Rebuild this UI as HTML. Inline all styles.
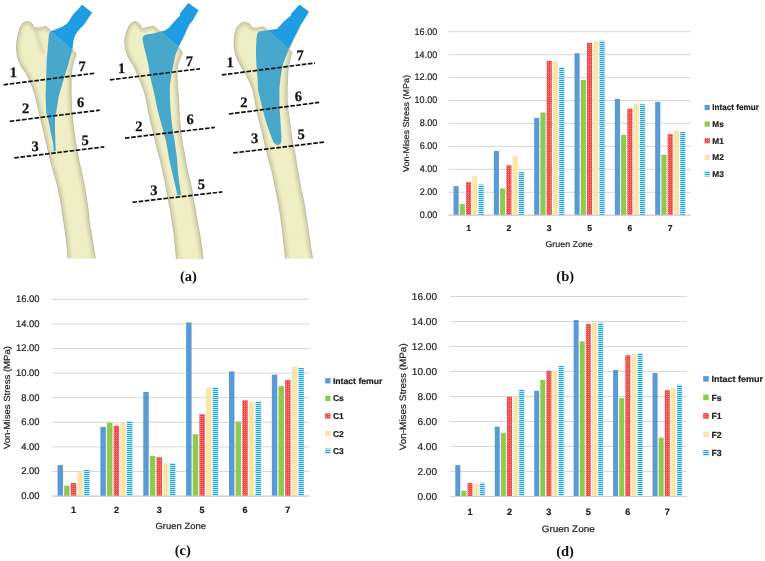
<!DOCTYPE html>
<html><head><meta charset="utf-8"><title>Figure</title>
<style>html,body{margin:0;padding:0;background:#fff;}.ch text{stroke:#222;stroke-width:0.2px;}body{width:765px;height:561px;position:relative;overflow:hidden;font-family:"Liberation Sans",sans-serif;}</style>
</head><body>
<svg width="765" height="561" viewBox="0 0 765 561" text-rendering="geometricPrecision" style="position:absolute;left:0;top:0">
<defs>
<pattern id="chk" width="2" height="2" patternUnits="userSpaceOnUse"><rect width="2" height="2" fill="#ee4a4a"/><rect width="1" height="1" fill="#f48a8a"/></pattern>
<pattern id="vln" width="2" height="2" patternUnits="userSpaceOnUse"><rect width="2" height="2" fill="#fce8ab"/><rect width="1" height="2" fill="#f9e3a2"/></pattern>
<pattern id="hln" width="2" height="2" patternUnits="userSpaceOnUse"><rect width="2" height="2" fill="#bfe6f9"/><rect width="2" height="1" fill="#20a8ea"/></pattern>
<linearGradient id="bg" x1="0" y1="0" x2="1" y2="0"><stop offset="0" stop-color="#d6d3ad"/><stop offset="0.45" stop-color="#ebe9c4"/><stop offset="1" stop-color="#d9d6b0"/></linearGradient>
</defs>
<filter id="blr" x="-20%" y="-20%" width="140%" height="140%"><feGaussianBlur stdDeviation="1.6"/></filter>
<clipPath id="cb0"><path d="M 27.60 21.40 C 28.00 21.55 29.23 21.87 30.00 22.30 C 30.77 22.73 31.60 23.35 32.20 24.00 C 32.80 24.65 33.03 25.60 33.60 26.20 C 34.17 26.80 34.37 27.33 35.60 27.60 C 36.83 27.87 39.38 27.98 41.00 27.80 C 42.62 27.62 44.23 26.58 45.30 26.50 C 46.37 26.42 46.45 26.57 47.40 27.30 C 48.35 28.03 48.90 29.45 51.00 30.90 C 53.10 32.35 57.17 33.98 60.00 36.00 C 62.83 38.02 65.93 40.77 68.00 43.00 C 70.07 45.23 71.25 47.92 72.40 49.40 C 73.55 50.88 74.27 51.07 74.90 51.90 C 75.53 52.73 76.40 52.85 76.20 54.40 C 76.00 55.95 74.43 58.60 73.70 61.20 C 72.97 63.80 72.22 66.67 71.80 70.00 C 71.38 73.33 71.30 76.83 71.20 81.20 C 71.10 85.57 71.13 92.07 71.20 96.20 C 71.27 100.33 71.37 102.25 71.60 106.00 C 71.83 109.75 72.05 113.47 72.60 118.70 C 73.15 123.93 74.00 131.15 74.90 137.40 C 75.80 143.65 76.97 150.77 78.00 156.20 C 79.03 161.63 80.05 165.20 81.10 170.00 C 82.15 174.80 83.43 180.43 84.30 185.00 C 85.17 189.57 85.65 193.25 86.30 197.40 C 86.95 201.55 87.63 205.33 88.20 209.90 C 88.77 214.47 89.13 220.68 89.70 224.80 C 90.27 228.92 90.97 230.83 91.60 234.60 C 92.23 238.37 92.85 243.40 93.50 247.40 C 94.15 251.40 95.17 256.73 95.50 258.60  L 68.00 258.60 C 67.85 256.73 67.50 251.40 67.10 247.40 C 66.70 243.40 66.08 238.37 65.60 234.60 C 65.12 230.83 64.70 228.07 64.20 224.80 C 63.70 221.53 63.08 218.30 62.60 215.00 C 62.12 211.70 61.77 207.93 61.30 205.00 C 60.83 202.07 60.47 200.73 59.80 197.40 C 59.13 194.07 58.32 189.15 57.30 185.00 C 56.28 180.85 54.88 176.67 53.70 172.50 C 52.52 168.33 51.65 165.85 50.20 160.00 C 48.75 154.15 46.60 144.28 45.00 137.40 C 43.40 130.52 42.07 124.93 40.60 118.70 C 39.13 112.47 37.38 104.78 36.20 100.00 C 35.02 95.22 34.62 93.33 33.50 90.00 C 32.38 86.67 30.83 82.92 29.50 80.00 C 28.17 77.08 26.75 74.58 25.50 72.50 C 24.25 70.42 23.00 69.17 22.00 67.50 C 21.00 65.83 20.28 64.42 19.50 62.50 C 18.72 60.58 17.80 58.58 17.30 56.00 C 16.80 53.42 16.55 49.67 16.50 47.00 C 16.45 44.33 16.75 42.00 17.00 40.00 C 17.25 38.00 17.58 36.83 18.00 35.00 C 18.42 33.17 18.92 30.67 19.50 29.00 C 20.08 27.33 20.70 26.12 21.50 25.00 C 22.30 23.88 23.28 22.90 24.30 22.30 C 25.32 21.70 27.05 21.55 27.60 21.40 Z"/></clipPath>
<path d="M 27.60 21.40 C 28.00 21.55 29.23 21.87 30.00 22.30 C 30.77 22.73 31.60 23.35 32.20 24.00 C 32.80 24.65 33.03 25.60 33.60 26.20 C 34.17 26.80 34.37 27.33 35.60 27.60 C 36.83 27.87 39.38 27.98 41.00 27.80 C 42.62 27.62 44.23 26.58 45.30 26.50 C 46.37 26.42 46.45 26.57 47.40 27.30 C 48.35 28.03 48.90 29.45 51.00 30.90 C 53.10 32.35 57.17 33.98 60.00 36.00 C 62.83 38.02 65.93 40.77 68.00 43.00 C 70.07 45.23 71.25 47.92 72.40 49.40 C 73.55 50.88 74.27 51.07 74.90 51.90 C 75.53 52.73 76.40 52.85 76.20 54.40 C 76.00 55.95 74.43 58.60 73.70 61.20 C 72.97 63.80 72.22 66.67 71.80 70.00 C 71.38 73.33 71.30 76.83 71.20 81.20 C 71.10 85.57 71.13 92.07 71.20 96.20 C 71.27 100.33 71.37 102.25 71.60 106.00 C 71.83 109.75 72.05 113.47 72.60 118.70 C 73.15 123.93 74.00 131.15 74.90 137.40 C 75.80 143.65 76.97 150.77 78.00 156.20 C 79.03 161.63 80.05 165.20 81.10 170.00 C 82.15 174.80 83.43 180.43 84.30 185.00 C 85.17 189.57 85.65 193.25 86.30 197.40 C 86.95 201.55 87.63 205.33 88.20 209.90 C 88.77 214.47 89.13 220.68 89.70 224.80 C 90.27 228.92 90.97 230.83 91.60 234.60 C 92.23 238.37 92.85 243.40 93.50 247.40 C 94.15 251.40 95.17 256.73 95.50 258.60  L 68.00 258.60 C 67.85 256.73 67.50 251.40 67.10 247.40 C 66.70 243.40 66.08 238.37 65.60 234.60 C 65.12 230.83 64.70 228.07 64.20 224.80 C 63.70 221.53 63.08 218.30 62.60 215.00 C 62.12 211.70 61.77 207.93 61.30 205.00 C 60.83 202.07 60.47 200.73 59.80 197.40 C 59.13 194.07 58.32 189.15 57.30 185.00 C 56.28 180.85 54.88 176.67 53.70 172.50 C 52.52 168.33 51.65 165.85 50.20 160.00 C 48.75 154.15 46.60 144.28 45.00 137.40 C 43.40 130.52 42.07 124.93 40.60 118.70 C 39.13 112.47 37.38 104.78 36.20 100.00 C 35.02 95.22 34.62 93.33 33.50 90.00 C 32.38 86.67 30.83 82.92 29.50 80.00 C 28.17 77.08 26.75 74.58 25.50 72.50 C 24.25 70.42 23.00 69.17 22.00 67.50 C 21.00 65.83 20.28 64.42 19.50 62.50 C 18.72 60.58 17.80 58.58 17.30 56.00 C 16.80 53.42 16.55 49.67 16.50 47.00 C 16.45 44.33 16.75 42.00 17.00 40.00 C 17.25 38.00 17.58 36.83 18.00 35.00 C 18.42 33.17 18.92 30.67 19.50 29.00 C 20.08 27.33 20.70 26.12 21.50 25.00 C 22.30 23.88 23.28 22.90 24.30 22.30 C 25.32 21.70 27.05 21.55 27.60 21.40 Z" fill="#efeec5"/>
<g clip-path="url(#cb0)"><path d="M 27.60 21.40 C 28.00 21.55 29.23 21.87 30.00 22.30 C 30.77 22.73 31.60 23.35 32.20 24.00 C 32.80 24.65 33.03 25.60 33.60 26.20 C 34.17 26.80 34.37 27.33 35.60 27.60 C 36.83 27.87 39.38 27.98 41.00 27.80 C 42.62 27.62 44.23 26.58 45.30 26.50 C 46.37 26.42 46.45 26.57 47.40 27.30 C 48.35 28.03 48.90 29.45 51.00 30.90 C 53.10 32.35 57.17 33.98 60.00 36.00 C 62.83 38.02 65.93 40.77 68.00 43.00 C 70.07 45.23 71.25 47.92 72.40 49.40 C 73.55 50.88 74.27 51.07 74.90 51.90 C 75.53 52.73 76.40 52.85 76.20 54.40 C 76.00 55.95 74.43 58.60 73.70 61.20 C 72.97 63.80 72.22 66.67 71.80 70.00 C 71.38 73.33 71.30 76.83 71.20 81.20 C 71.10 85.57 71.13 92.07 71.20 96.20 C 71.27 100.33 71.37 102.25 71.60 106.00 C 71.83 109.75 72.05 113.47 72.60 118.70 C 73.15 123.93 74.00 131.15 74.90 137.40 C 75.80 143.65 76.97 150.77 78.00 156.20 C 79.03 161.63 80.05 165.20 81.10 170.00 C 82.15 174.80 83.43 180.43 84.30 185.00 C 85.17 189.57 85.65 193.25 86.30 197.40 C 86.95 201.55 87.63 205.33 88.20 209.90 C 88.77 214.47 89.13 220.68 89.70 224.80 C 90.27 228.92 90.97 230.83 91.60 234.60 C 92.23 238.37 92.85 243.40 93.50 247.40 C 94.15 251.40 95.17 256.73 95.50 258.60  M 68.00 258.60 C 67.85 256.73 67.50 251.40 67.10 247.40 C 66.70 243.40 66.08 238.37 65.60 234.60 C 65.12 230.83 64.70 228.07 64.20 224.80 C 63.70 221.53 63.08 218.30 62.60 215.00 C 62.12 211.70 61.77 207.93 61.30 205.00 C 60.83 202.07 60.47 200.73 59.80 197.40 C 59.13 194.07 58.32 189.15 57.30 185.00 C 56.28 180.85 54.88 176.67 53.70 172.50 C 52.52 168.33 51.65 165.85 50.20 160.00 C 48.75 154.15 46.60 144.28 45.00 137.40 C 43.40 130.52 42.07 124.93 40.60 118.70 C 39.13 112.47 37.38 104.78 36.20 100.00 C 35.02 95.22 34.62 93.33 33.50 90.00 C 32.38 86.67 30.83 82.92 29.50 80.00 C 28.17 77.08 26.75 74.58 25.50 72.50 C 24.25 70.42 23.00 69.17 22.00 67.50 C 21.00 65.83 20.28 64.42 19.50 62.50 C 18.72 60.58 17.80 58.58 17.30 56.00 C 16.80 53.42 16.55 49.67 16.50 47.00 C 16.45 44.33 16.75 42.00 17.00 40.00 C 17.25 38.00 17.58 36.83 18.00 35.00 C 18.42 33.17 18.92 30.67 19.50 29.00 C 20.08 27.33 20.70 26.12 21.50 25.00 C 22.30 23.88 23.28 22.90 24.30 22.30 C 25.32 21.70 27.05 21.55 27.60 21.40 " fill="none" stroke="#d3d1ab" stroke-width="6" filter="url(#blr)"/></g>
<path d="M 27.60 21.40 C 28.00 21.55 29.23 21.87 30.00 22.30 C 30.77 22.73 31.60 23.35 32.20 24.00 C 32.80 24.65 33.03 25.60 33.60 26.20 C 34.17 26.80 34.37 27.33 35.60 27.60 C 36.83 27.87 39.38 27.98 41.00 27.80 C 42.62 27.62 44.23 26.58 45.30 26.50 C 46.37 26.42 46.45 26.57 47.40 27.30 C 48.35 28.03 48.90 29.45 51.00 30.90 C 53.10 32.35 57.17 33.98 60.00 36.00 C 62.83 38.02 65.93 40.77 68.00 43.00 C 70.07 45.23 71.25 47.92 72.40 49.40 C 73.55 50.88 74.27 51.07 74.90 51.90 C 75.53 52.73 76.40 52.85 76.20 54.40 C 76.00 55.95 74.43 58.60 73.70 61.20 C 72.97 63.80 72.22 66.67 71.80 70.00 C 71.38 73.33 71.30 76.83 71.20 81.20 C 71.10 85.57 71.13 92.07 71.20 96.20 C 71.27 100.33 71.37 102.25 71.60 106.00 C 71.83 109.75 72.05 113.47 72.60 118.70 C 73.15 123.93 74.00 131.15 74.90 137.40 C 75.80 143.65 76.97 150.77 78.00 156.20 C 79.03 161.63 80.05 165.20 81.10 170.00 C 82.15 174.80 83.43 180.43 84.30 185.00 C 85.17 189.57 85.65 193.25 86.30 197.40 C 86.95 201.55 87.63 205.33 88.20 209.90 C 88.77 214.47 89.13 220.68 89.70 224.80 C 90.27 228.92 90.97 230.83 91.60 234.60 C 92.23 238.37 92.85 243.40 93.50 247.40 C 94.15 251.40 95.17 256.73 95.50 258.60  M 68.00 258.60 C 67.85 256.73 67.50 251.40 67.10 247.40 C 66.70 243.40 66.08 238.37 65.60 234.60 C 65.12 230.83 64.70 228.07 64.20 224.80 C 63.70 221.53 63.08 218.30 62.60 215.00 C 62.12 211.70 61.77 207.93 61.30 205.00 C 60.83 202.07 60.47 200.73 59.80 197.40 C 59.13 194.07 58.32 189.15 57.30 185.00 C 56.28 180.85 54.88 176.67 53.70 172.50 C 52.52 168.33 51.65 165.85 50.20 160.00 C 48.75 154.15 46.60 144.28 45.00 137.40 C 43.40 130.52 42.07 124.93 40.60 118.70 C 39.13 112.47 37.38 104.78 36.20 100.00 C 35.02 95.22 34.62 93.33 33.50 90.00 C 32.38 86.67 30.83 82.92 29.50 80.00 C 28.17 77.08 26.75 74.58 25.50 72.50 C 24.25 70.42 23.00 69.17 22.00 67.50 C 21.00 65.83 20.28 64.42 19.50 62.50 C 18.72 60.58 17.80 58.58 17.30 56.00 C 16.80 53.42 16.55 49.67 16.50 47.00 C 16.45 44.33 16.75 42.00 17.00 40.00 C 17.25 38.00 17.58 36.83 18.00 35.00 C 18.42 33.17 18.92 30.67 19.50 29.00 C 20.08 27.33 20.70 26.12 21.50 25.00 C 22.30 23.88 23.28 22.90 24.30 22.30 C 25.32 21.70 27.05 21.55 27.60 21.40 " fill="none" stroke="#a8a688" stroke-width="0.6"/>
<clipPath id="cb1"><path d="M 135.00 21.60 C 135.43 21.75 136.80 22.00 137.60 22.50 C 138.40 23.00 138.98 23.62 139.80 24.60 C 140.62 25.58 141.35 27.90 142.50 28.40 C 143.65 28.90 144.92 27.97 146.70 27.60 C 148.48 27.23 151.77 26.25 153.20 26.20 C 154.63 26.15 154.23 26.50 155.30 27.30 C 156.37 28.10 157.15 29.22 159.60 31.00 C 162.05 32.78 166.85 35.32 170.00 38.00 C 173.15 40.68 176.58 44.93 178.50 47.10 C 180.42 49.27 180.92 49.85 181.50 51.00 C 182.08 52.15 182.33 52.50 182.00 54.00 C 181.67 55.50 180.25 57.83 179.50 60.00 C 178.75 62.17 177.92 64.50 177.50 67.00 C 177.08 69.50 177.02 72.00 177.00 75.00 C 176.98 78.00 177.15 81.27 177.40 85.00 C 177.65 88.73 178.22 93.23 178.50 97.40 C 178.78 101.57 178.82 105.23 179.10 110.00 C 179.38 114.77 179.68 120.65 180.20 126.00 C 180.72 131.35 181.42 137.10 182.20 142.10 C 182.98 147.10 184.05 151.35 184.90 156.00 C 185.75 160.65 186.43 165.77 187.30 170.00 C 188.17 174.23 189.27 177.73 190.10 181.40 C 190.93 185.07 191.73 188.90 192.30 192.00 C 192.87 195.10 192.95 196.88 193.50 200.00 C 194.05 203.12 194.98 207.13 195.60 210.70 C 196.22 214.27 196.57 217.83 197.20 221.40 C 197.83 224.97 198.77 228.53 199.40 232.10 C 200.03 235.67 200.47 239.23 201.00 242.80 C 201.53 246.37 202.25 250.77 202.60 253.50 C 202.95 256.23 203.02 258.25 203.10 259.20  L 176.40 259.20 C 176.32 258.25 176.17 256.23 175.90 253.50 C 175.63 250.77 175.17 246.37 174.80 242.80 C 174.43 239.23 174.15 235.67 173.70 232.10 C 173.25 228.53 172.63 224.97 172.10 221.40 C 171.57 217.83 171.12 214.27 170.50 210.70 C 169.88 207.13 169.32 204.88 168.40 200.00 C 167.48 195.12 165.98 186.40 165.00 181.40 C 164.02 176.40 163.37 173.88 162.50 170.00 C 161.63 166.12 160.97 162.75 159.80 158.10 C 158.63 153.45 156.83 147.45 155.50 142.10 C 154.17 136.75 153.05 131.35 151.80 126.00 C 150.55 120.65 149.00 114.77 148.00 110.00 C 147.00 105.23 146.75 101.40 145.80 97.40 C 144.85 93.40 143.60 89.57 142.30 86.00 C 141.00 82.43 139.40 79.28 138.00 76.00 C 136.60 72.72 135.30 68.98 133.90 66.30 C 132.50 63.62 130.85 62.22 129.60 59.90 C 128.35 57.58 127.20 55.07 126.40 52.40 C 125.60 49.73 124.98 46.57 124.80 43.90 C 124.62 41.23 124.67 39.25 125.30 36.40 C 125.93 33.55 127.55 29.03 128.60 26.80 C 129.65 24.57 130.53 23.87 131.60 23.00 C 132.67 22.13 134.43 21.83 135.00 21.60 Z"/></clipPath>
<path d="M 135.00 21.60 C 135.43 21.75 136.80 22.00 137.60 22.50 C 138.40 23.00 138.98 23.62 139.80 24.60 C 140.62 25.58 141.35 27.90 142.50 28.40 C 143.65 28.90 144.92 27.97 146.70 27.60 C 148.48 27.23 151.77 26.25 153.20 26.20 C 154.63 26.15 154.23 26.50 155.30 27.30 C 156.37 28.10 157.15 29.22 159.60 31.00 C 162.05 32.78 166.85 35.32 170.00 38.00 C 173.15 40.68 176.58 44.93 178.50 47.10 C 180.42 49.27 180.92 49.85 181.50 51.00 C 182.08 52.15 182.33 52.50 182.00 54.00 C 181.67 55.50 180.25 57.83 179.50 60.00 C 178.75 62.17 177.92 64.50 177.50 67.00 C 177.08 69.50 177.02 72.00 177.00 75.00 C 176.98 78.00 177.15 81.27 177.40 85.00 C 177.65 88.73 178.22 93.23 178.50 97.40 C 178.78 101.57 178.82 105.23 179.10 110.00 C 179.38 114.77 179.68 120.65 180.20 126.00 C 180.72 131.35 181.42 137.10 182.20 142.10 C 182.98 147.10 184.05 151.35 184.90 156.00 C 185.75 160.65 186.43 165.77 187.30 170.00 C 188.17 174.23 189.27 177.73 190.10 181.40 C 190.93 185.07 191.73 188.90 192.30 192.00 C 192.87 195.10 192.95 196.88 193.50 200.00 C 194.05 203.12 194.98 207.13 195.60 210.70 C 196.22 214.27 196.57 217.83 197.20 221.40 C 197.83 224.97 198.77 228.53 199.40 232.10 C 200.03 235.67 200.47 239.23 201.00 242.80 C 201.53 246.37 202.25 250.77 202.60 253.50 C 202.95 256.23 203.02 258.25 203.10 259.20  L 176.40 259.20 C 176.32 258.25 176.17 256.23 175.90 253.50 C 175.63 250.77 175.17 246.37 174.80 242.80 C 174.43 239.23 174.15 235.67 173.70 232.10 C 173.25 228.53 172.63 224.97 172.10 221.40 C 171.57 217.83 171.12 214.27 170.50 210.70 C 169.88 207.13 169.32 204.88 168.40 200.00 C 167.48 195.12 165.98 186.40 165.00 181.40 C 164.02 176.40 163.37 173.88 162.50 170.00 C 161.63 166.12 160.97 162.75 159.80 158.10 C 158.63 153.45 156.83 147.45 155.50 142.10 C 154.17 136.75 153.05 131.35 151.80 126.00 C 150.55 120.65 149.00 114.77 148.00 110.00 C 147.00 105.23 146.75 101.40 145.80 97.40 C 144.85 93.40 143.60 89.57 142.30 86.00 C 141.00 82.43 139.40 79.28 138.00 76.00 C 136.60 72.72 135.30 68.98 133.90 66.30 C 132.50 63.62 130.85 62.22 129.60 59.90 C 128.35 57.58 127.20 55.07 126.40 52.40 C 125.60 49.73 124.98 46.57 124.80 43.90 C 124.62 41.23 124.67 39.25 125.30 36.40 C 125.93 33.55 127.55 29.03 128.60 26.80 C 129.65 24.57 130.53 23.87 131.60 23.00 C 132.67 22.13 134.43 21.83 135.00 21.60 Z" fill="#efeec5"/>
<g clip-path="url(#cb1)"><path d="M 135.00 21.60 C 135.43 21.75 136.80 22.00 137.60 22.50 C 138.40 23.00 138.98 23.62 139.80 24.60 C 140.62 25.58 141.35 27.90 142.50 28.40 C 143.65 28.90 144.92 27.97 146.70 27.60 C 148.48 27.23 151.77 26.25 153.20 26.20 C 154.63 26.15 154.23 26.50 155.30 27.30 C 156.37 28.10 157.15 29.22 159.60 31.00 C 162.05 32.78 166.85 35.32 170.00 38.00 C 173.15 40.68 176.58 44.93 178.50 47.10 C 180.42 49.27 180.92 49.85 181.50 51.00 C 182.08 52.15 182.33 52.50 182.00 54.00 C 181.67 55.50 180.25 57.83 179.50 60.00 C 178.75 62.17 177.92 64.50 177.50 67.00 C 177.08 69.50 177.02 72.00 177.00 75.00 C 176.98 78.00 177.15 81.27 177.40 85.00 C 177.65 88.73 178.22 93.23 178.50 97.40 C 178.78 101.57 178.82 105.23 179.10 110.00 C 179.38 114.77 179.68 120.65 180.20 126.00 C 180.72 131.35 181.42 137.10 182.20 142.10 C 182.98 147.10 184.05 151.35 184.90 156.00 C 185.75 160.65 186.43 165.77 187.30 170.00 C 188.17 174.23 189.27 177.73 190.10 181.40 C 190.93 185.07 191.73 188.90 192.30 192.00 C 192.87 195.10 192.95 196.88 193.50 200.00 C 194.05 203.12 194.98 207.13 195.60 210.70 C 196.22 214.27 196.57 217.83 197.20 221.40 C 197.83 224.97 198.77 228.53 199.40 232.10 C 200.03 235.67 200.47 239.23 201.00 242.80 C 201.53 246.37 202.25 250.77 202.60 253.50 C 202.95 256.23 203.02 258.25 203.10 259.20  M 176.40 259.20 C 176.32 258.25 176.17 256.23 175.90 253.50 C 175.63 250.77 175.17 246.37 174.80 242.80 C 174.43 239.23 174.15 235.67 173.70 232.10 C 173.25 228.53 172.63 224.97 172.10 221.40 C 171.57 217.83 171.12 214.27 170.50 210.70 C 169.88 207.13 169.32 204.88 168.40 200.00 C 167.48 195.12 165.98 186.40 165.00 181.40 C 164.02 176.40 163.37 173.88 162.50 170.00 C 161.63 166.12 160.97 162.75 159.80 158.10 C 158.63 153.45 156.83 147.45 155.50 142.10 C 154.17 136.75 153.05 131.35 151.80 126.00 C 150.55 120.65 149.00 114.77 148.00 110.00 C 147.00 105.23 146.75 101.40 145.80 97.40 C 144.85 93.40 143.60 89.57 142.30 86.00 C 141.00 82.43 139.40 79.28 138.00 76.00 C 136.60 72.72 135.30 68.98 133.90 66.30 C 132.50 63.62 130.85 62.22 129.60 59.90 C 128.35 57.58 127.20 55.07 126.40 52.40 C 125.60 49.73 124.98 46.57 124.80 43.90 C 124.62 41.23 124.67 39.25 125.30 36.40 C 125.93 33.55 127.55 29.03 128.60 26.80 C 129.65 24.57 130.53 23.87 131.60 23.00 C 132.67 22.13 134.43 21.83 135.00 21.60 " fill="none" stroke="#d3d1ab" stroke-width="6" filter="url(#blr)"/></g>
<path d="M 135.00 21.60 C 135.43 21.75 136.80 22.00 137.60 22.50 C 138.40 23.00 138.98 23.62 139.80 24.60 C 140.62 25.58 141.35 27.90 142.50 28.40 C 143.65 28.90 144.92 27.97 146.70 27.60 C 148.48 27.23 151.77 26.25 153.20 26.20 C 154.63 26.15 154.23 26.50 155.30 27.30 C 156.37 28.10 157.15 29.22 159.60 31.00 C 162.05 32.78 166.85 35.32 170.00 38.00 C 173.15 40.68 176.58 44.93 178.50 47.10 C 180.42 49.27 180.92 49.85 181.50 51.00 C 182.08 52.15 182.33 52.50 182.00 54.00 C 181.67 55.50 180.25 57.83 179.50 60.00 C 178.75 62.17 177.92 64.50 177.50 67.00 C 177.08 69.50 177.02 72.00 177.00 75.00 C 176.98 78.00 177.15 81.27 177.40 85.00 C 177.65 88.73 178.22 93.23 178.50 97.40 C 178.78 101.57 178.82 105.23 179.10 110.00 C 179.38 114.77 179.68 120.65 180.20 126.00 C 180.72 131.35 181.42 137.10 182.20 142.10 C 182.98 147.10 184.05 151.35 184.90 156.00 C 185.75 160.65 186.43 165.77 187.30 170.00 C 188.17 174.23 189.27 177.73 190.10 181.40 C 190.93 185.07 191.73 188.90 192.30 192.00 C 192.87 195.10 192.95 196.88 193.50 200.00 C 194.05 203.12 194.98 207.13 195.60 210.70 C 196.22 214.27 196.57 217.83 197.20 221.40 C 197.83 224.97 198.77 228.53 199.40 232.10 C 200.03 235.67 200.47 239.23 201.00 242.80 C 201.53 246.37 202.25 250.77 202.60 253.50 C 202.95 256.23 203.02 258.25 203.10 259.20  M 176.40 259.20 C 176.32 258.25 176.17 256.23 175.90 253.50 C 175.63 250.77 175.17 246.37 174.80 242.80 C 174.43 239.23 174.15 235.67 173.70 232.10 C 173.25 228.53 172.63 224.97 172.10 221.40 C 171.57 217.83 171.12 214.27 170.50 210.70 C 169.88 207.13 169.32 204.88 168.40 200.00 C 167.48 195.12 165.98 186.40 165.00 181.40 C 164.02 176.40 163.37 173.88 162.50 170.00 C 161.63 166.12 160.97 162.75 159.80 158.10 C 158.63 153.45 156.83 147.45 155.50 142.10 C 154.17 136.75 153.05 131.35 151.80 126.00 C 150.55 120.65 149.00 114.77 148.00 110.00 C 147.00 105.23 146.75 101.40 145.80 97.40 C 144.85 93.40 143.60 89.57 142.30 86.00 C 141.00 82.43 139.40 79.28 138.00 76.00 C 136.60 72.72 135.30 68.98 133.90 66.30 C 132.50 63.62 130.85 62.22 129.60 59.90 C 128.35 57.58 127.20 55.07 126.40 52.40 C 125.60 49.73 124.98 46.57 124.80 43.90 C 124.62 41.23 124.67 39.25 125.30 36.40 C 125.93 33.55 127.55 29.03 128.60 26.80 C 129.65 24.57 130.53 23.87 131.60 23.00 C 132.67 22.13 134.43 21.83 135.00 21.60 " fill="none" stroke="#a8a688" stroke-width="0.6"/>
<clipPath id="cb2"><path d="M 244.80 22.30 C 245.23 22.40 246.60 22.63 247.40 22.90 C 248.20 23.17 248.88 23.20 249.60 23.90 C 250.32 24.60 250.63 26.38 251.70 27.10 C 252.77 27.82 254.22 28.23 256.00 28.20 C 257.78 28.17 260.97 27.00 262.40 26.90 C 263.83 26.80 263.70 27.03 264.60 27.60 C 265.50 28.17 265.57 28.57 267.80 30.30 C 270.03 32.03 274.48 34.88 278.00 38.00 C 281.52 41.12 286.80 46.87 288.90 49.00 C 291.00 51.13 290.17 50.13 290.60 50.80 C 291.03 51.47 291.57 51.73 291.50 53.00 C 291.43 54.27 290.63 56.47 290.20 58.40 C 289.77 60.33 289.27 62.38 288.90 64.60 C 288.53 66.82 288.23 69.02 288.00 71.70 C 287.77 74.38 287.63 77.65 287.50 80.70 C 287.37 83.75 287.20 85.78 287.20 90.00 C 287.20 94.22 287.07 100.65 287.50 106.00 C 287.93 111.35 289.02 116.43 289.80 122.10 C 290.58 127.77 291.43 135.35 292.20 140.00 C 292.97 144.65 293.77 146.67 294.40 150.00 C 295.03 153.33 295.32 155.83 296.00 160.00 C 296.68 164.17 297.70 170.33 298.50 175.00 C 299.30 179.67 300.15 184.67 300.80 188.00 C 301.45 191.33 301.77 192.05 302.40 195.00 C 303.03 197.95 303.97 202.13 304.60 205.70 C 305.23 209.27 305.67 212.83 306.20 216.40 C 306.73 219.97 307.27 223.53 307.80 227.10 C 308.33 230.67 308.87 234.23 309.40 237.80 C 309.93 241.37 310.47 245.03 311.00 248.50 C 311.53 251.97 312.33 256.92 312.60 258.60  L 285.60 258.60 C 285.38 256.92 284.70 251.97 284.30 248.50 C 283.90 245.03 283.57 241.37 283.20 237.80 C 282.83 234.23 282.55 230.67 282.10 227.10 C 281.65 223.53 281.03 219.97 280.50 216.40 C 279.97 212.83 279.52 209.27 278.90 205.70 C 278.28 202.13 277.53 198.62 276.80 195.00 C 276.07 191.38 275.28 187.82 274.50 184.00 C 273.72 180.18 273.22 176.77 272.10 172.10 C 270.98 167.43 269.07 160.85 267.80 156.00 C 266.53 151.15 265.33 146.50 264.50 143.00 C 263.67 139.50 263.62 138.48 262.80 135.00 C 261.98 131.52 260.75 126.93 259.60 122.10 C 258.45 117.27 257.05 111.35 255.90 106.00 C 254.75 100.65 254.10 94.77 252.70 90.00 C 251.30 85.23 249.28 81.07 247.50 77.40 C 245.72 73.73 243.65 70.90 242.00 68.00 C 240.35 65.10 238.77 62.67 237.60 60.00 C 236.43 57.33 235.58 54.67 235.00 52.00 C 234.42 49.33 234.18 46.67 234.10 44.00 C 234.02 41.33 234.10 38.58 234.50 36.00 C 234.90 33.42 235.67 30.40 236.50 28.50 C 237.33 26.60 238.55 25.57 239.50 24.60 C 240.45 23.63 241.32 23.08 242.20 22.70 C 243.08 22.32 244.37 22.37 244.80 22.30 Z"/></clipPath>
<path d="M 244.80 22.30 C 245.23 22.40 246.60 22.63 247.40 22.90 C 248.20 23.17 248.88 23.20 249.60 23.90 C 250.32 24.60 250.63 26.38 251.70 27.10 C 252.77 27.82 254.22 28.23 256.00 28.20 C 257.78 28.17 260.97 27.00 262.40 26.90 C 263.83 26.80 263.70 27.03 264.60 27.60 C 265.50 28.17 265.57 28.57 267.80 30.30 C 270.03 32.03 274.48 34.88 278.00 38.00 C 281.52 41.12 286.80 46.87 288.90 49.00 C 291.00 51.13 290.17 50.13 290.60 50.80 C 291.03 51.47 291.57 51.73 291.50 53.00 C 291.43 54.27 290.63 56.47 290.20 58.40 C 289.77 60.33 289.27 62.38 288.90 64.60 C 288.53 66.82 288.23 69.02 288.00 71.70 C 287.77 74.38 287.63 77.65 287.50 80.70 C 287.37 83.75 287.20 85.78 287.20 90.00 C 287.20 94.22 287.07 100.65 287.50 106.00 C 287.93 111.35 289.02 116.43 289.80 122.10 C 290.58 127.77 291.43 135.35 292.20 140.00 C 292.97 144.65 293.77 146.67 294.40 150.00 C 295.03 153.33 295.32 155.83 296.00 160.00 C 296.68 164.17 297.70 170.33 298.50 175.00 C 299.30 179.67 300.15 184.67 300.80 188.00 C 301.45 191.33 301.77 192.05 302.40 195.00 C 303.03 197.95 303.97 202.13 304.60 205.70 C 305.23 209.27 305.67 212.83 306.20 216.40 C 306.73 219.97 307.27 223.53 307.80 227.10 C 308.33 230.67 308.87 234.23 309.40 237.80 C 309.93 241.37 310.47 245.03 311.00 248.50 C 311.53 251.97 312.33 256.92 312.60 258.60  L 285.60 258.60 C 285.38 256.92 284.70 251.97 284.30 248.50 C 283.90 245.03 283.57 241.37 283.20 237.80 C 282.83 234.23 282.55 230.67 282.10 227.10 C 281.65 223.53 281.03 219.97 280.50 216.40 C 279.97 212.83 279.52 209.27 278.90 205.70 C 278.28 202.13 277.53 198.62 276.80 195.00 C 276.07 191.38 275.28 187.82 274.50 184.00 C 273.72 180.18 273.22 176.77 272.10 172.10 C 270.98 167.43 269.07 160.85 267.80 156.00 C 266.53 151.15 265.33 146.50 264.50 143.00 C 263.67 139.50 263.62 138.48 262.80 135.00 C 261.98 131.52 260.75 126.93 259.60 122.10 C 258.45 117.27 257.05 111.35 255.90 106.00 C 254.75 100.65 254.10 94.77 252.70 90.00 C 251.30 85.23 249.28 81.07 247.50 77.40 C 245.72 73.73 243.65 70.90 242.00 68.00 C 240.35 65.10 238.77 62.67 237.60 60.00 C 236.43 57.33 235.58 54.67 235.00 52.00 C 234.42 49.33 234.18 46.67 234.10 44.00 C 234.02 41.33 234.10 38.58 234.50 36.00 C 234.90 33.42 235.67 30.40 236.50 28.50 C 237.33 26.60 238.55 25.57 239.50 24.60 C 240.45 23.63 241.32 23.08 242.20 22.70 C 243.08 22.32 244.37 22.37 244.80 22.30 Z" fill="#efeec5"/>
<g clip-path="url(#cb2)"><path d="M 244.80 22.30 C 245.23 22.40 246.60 22.63 247.40 22.90 C 248.20 23.17 248.88 23.20 249.60 23.90 C 250.32 24.60 250.63 26.38 251.70 27.10 C 252.77 27.82 254.22 28.23 256.00 28.20 C 257.78 28.17 260.97 27.00 262.40 26.90 C 263.83 26.80 263.70 27.03 264.60 27.60 C 265.50 28.17 265.57 28.57 267.80 30.30 C 270.03 32.03 274.48 34.88 278.00 38.00 C 281.52 41.12 286.80 46.87 288.90 49.00 C 291.00 51.13 290.17 50.13 290.60 50.80 C 291.03 51.47 291.57 51.73 291.50 53.00 C 291.43 54.27 290.63 56.47 290.20 58.40 C 289.77 60.33 289.27 62.38 288.90 64.60 C 288.53 66.82 288.23 69.02 288.00 71.70 C 287.77 74.38 287.63 77.65 287.50 80.70 C 287.37 83.75 287.20 85.78 287.20 90.00 C 287.20 94.22 287.07 100.65 287.50 106.00 C 287.93 111.35 289.02 116.43 289.80 122.10 C 290.58 127.77 291.43 135.35 292.20 140.00 C 292.97 144.65 293.77 146.67 294.40 150.00 C 295.03 153.33 295.32 155.83 296.00 160.00 C 296.68 164.17 297.70 170.33 298.50 175.00 C 299.30 179.67 300.15 184.67 300.80 188.00 C 301.45 191.33 301.77 192.05 302.40 195.00 C 303.03 197.95 303.97 202.13 304.60 205.70 C 305.23 209.27 305.67 212.83 306.20 216.40 C 306.73 219.97 307.27 223.53 307.80 227.10 C 308.33 230.67 308.87 234.23 309.40 237.80 C 309.93 241.37 310.47 245.03 311.00 248.50 C 311.53 251.97 312.33 256.92 312.60 258.60  M 285.60 258.60 C 285.38 256.92 284.70 251.97 284.30 248.50 C 283.90 245.03 283.57 241.37 283.20 237.80 C 282.83 234.23 282.55 230.67 282.10 227.10 C 281.65 223.53 281.03 219.97 280.50 216.40 C 279.97 212.83 279.52 209.27 278.90 205.70 C 278.28 202.13 277.53 198.62 276.80 195.00 C 276.07 191.38 275.28 187.82 274.50 184.00 C 273.72 180.18 273.22 176.77 272.10 172.10 C 270.98 167.43 269.07 160.85 267.80 156.00 C 266.53 151.15 265.33 146.50 264.50 143.00 C 263.67 139.50 263.62 138.48 262.80 135.00 C 261.98 131.52 260.75 126.93 259.60 122.10 C 258.45 117.27 257.05 111.35 255.90 106.00 C 254.75 100.65 254.10 94.77 252.70 90.00 C 251.30 85.23 249.28 81.07 247.50 77.40 C 245.72 73.73 243.65 70.90 242.00 68.00 C 240.35 65.10 238.77 62.67 237.60 60.00 C 236.43 57.33 235.58 54.67 235.00 52.00 C 234.42 49.33 234.18 46.67 234.10 44.00 C 234.02 41.33 234.10 38.58 234.50 36.00 C 234.90 33.42 235.67 30.40 236.50 28.50 C 237.33 26.60 238.55 25.57 239.50 24.60 C 240.45 23.63 241.32 23.08 242.20 22.70 C 243.08 22.32 244.37 22.37 244.80 22.30 " fill="none" stroke="#d3d1ab" stroke-width="6" filter="url(#blr)"/></g>
<path d="M 244.80 22.30 C 245.23 22.40 246.60 22.63 247.40 22.90 C 248.20 23.17 248.88 23.20 249.60 23.90 C 250.32 24.60 250.63 26.38 251.70 27.10 C 252.77 27.82 254.22 28.23 256.00 28.20 C 257.78 28.17 260.97 27.00 262.40 26.90 C 263.83 26.80 263.70 27.03 264.60 27.60 C 265.50 28.17 265.57 28.57 267.80 30.30 C 270.03 32.03 274.48 34.88 278.00 38.00 C 281.52 41.12 286.80 46.87 288.90 49.00 C 291.00 51.13 290.17 50.13 290.60 50.80 C 291.03 51.47 291.57 51.73 291.50 53.00 C 291.43 54.27 290.63 56.47 290.20 58.40 C 289.77 60.33 289.27 62.38 288.90 64.60 C 288.53 66.82 288.23 69.02 288.00 71.70 C 287.77 74.38 287.63 77.65 287.50 80.70 C 287.37 83.75 287.20 85.78 287.20 90.00 C 287.20 94.22 287.07 100.65 287.50 106.00 C 287.93 111.35 289.02 116.43 289.80 122.10 C 290.58 127.77 291.43 135.35 292.20 140.00 C 292.97 144.65 293.77 146.67 294.40 150.00 C 295.03 153.33 295.32 155.83 296.00 160.00 C 296.68 164.17 297.70 170.33 298.50 175.00 C 299.30 179.67 300.15 184.67 300.80 188.00 C 301.45 191.33 301.77 192.05 302.40 195.00 C 303.03 197.95 303.97 202.13 304.60 205.70 C 305.23 209.27 305.67 212.83 306.20 216.40 C 306.73 219.97 307.27 223.53 307.80 227.10 C 308.33 230.67 308.87 234.23 309.40 237.80 C 309.93 241.37 310.47 245.03 311.00 248.50 C 311.53 251.97 312.33 256.92 312.60 258.60  M 285.60 258.60 C 285.38 256.92 284.70 251.97 284.30 248.50 C 283.90 245.03 283.57 241.37 283.20 237.80 C 282.83 234.23 282.55 230.67 282.10 227.10 C 281.65 223.53 281.03 219.97 280.50 216.40 C 279.97 212.83 279.52 209.27 278.90 205.70 C 278.28 202.13 277.53 198.62 276.80 195.00 C 276.07 191.38 275.28 187.82 274.50 184.00 C 273.72 180.18 273.22 176.77 272.10 172.10 C 270.98 167.43 269.07 160.85 267.80 156.00 C 266.53 151.15 265.33 146.50 264.50 143.00 C 263.67 139.50 263.62 138.48 262.80 135.00 C 261.98 131.52 260.75 126.93 259.60 122.10 C 258.45 117.27 257.05 111.35 255.90 106.00 C 254.75 100.65 254.10 94.77 252.70 90.00 C 251.30 85.23 249.28 81.07 247.50 77.40 C 245.72 73.73 243.65 70.90 242.00 68.00 C 240.35 65.10 238.77 62.67 237.60 60.00 C 236.43 57.33 235.58 54.67 235.00 52.00 C 234.42 49.33 234.18 46.67 234.10 44.00 C 234.02 41.33 234.10 38.58 234.50 36.00 C 234.90 33.42 235.67 30.40 236.50 28.50 C 237.33 26.60 238.55 25.57 239.50 24.60 C 240.45 23.63 241.32 23.08 242.20 22.70 C 243.08 22.32 244.37 22.37 244.80 22.30 " fill="none" stroke="#a8a688" stroke-width="0.6"/>
<path d="M 34.6 27.2 C 36.5 31 37.8 36.4 38.8 41 C 39.8 45.5 41.5 49.5 44 54" fill="none" stroke="#c9c6a0" stroke-width="2.2" filter="url(#blr)" opacity="0.8" clip-path="url(#cb0)"/>
<path d="M 50.90 31.20 L 72.40 49.40 L 69.90 58.70 L 66.20 71.20 L 62.40 83.70 L 58.70 96.20 L 56.20 112.50 L 55.00 116.50 L 55.00 131.20 L 55.70 150.50 L 55.00 151.60 L 53.80 151.40 L 53.10 143.70 L 50.60 131.20 L 48.10 118.70 L 46.20 112.50 L 45.60 96.20 L 46.20 77.40 L 46.80 58.70 L 47.80 47.40 L 48.90 34.60 Z" fill="#47a8cb"/>
<path d="M 142.50 39.60 L 142.80 37.00 L 144.50 35.20 L 146.50 34.50 L 152.10 33.70 L 160.90 31.40 L 178.50 47.10 L 175.60 54.60 L 174.30 60.00 L 171.80 72.50 L 169.90 85.00 L 169.90 97.40 L 170.50 110.00 L 172.10 126.00 L 174.80 142.10 L 176.90 158.10 L 178.30 176.00 L 181.00 194.20 L 180.80 195.30 L 177.40 195.30 L 177.30 194.20 L 173.00 176.00 L 169.30 160.00 L 166.20 142.10 L 161.90 126.00 L 157.60 110.00 L 153.70 91.20 L 150.00 76.20 L 148.30 64.20 L 146.20 55.60 L 144.10 47.10 Z" fill="#47a8cb"/>
<path d="M 256.60 37.00 L 257.30 33.50 L 259.20 31.60 L 262.00 31.00 L 267.80 30.30 L 288.90 49.00 L 286.20 55.70 L 283.50 62.80 L 281.70 70.00 L 280.40 78.90 L 279.50 87.80 L 279.40 95.00 L 279.40 106.00 L 280.50 122.10 L 281.50 138.10 L 281.30 141.50 L 280.20 144.00 L 278.00 145.30 L 275.60 144.60 L 273.30 142.00 L 271.40 137.10 L 266.00 122.10 L 261.80 106.00 L 258.00 90.00 L 257.70 80.70 L 256.30 62.80 L 256.00 52.80 L 256.10 45.00 Z" fill="#47a8cb"/>
<path d="M 82.10 4.70 L 92.10 12.50 L 84.20 24.50 L 79.30 29.40 L 76.40 33.30 L 74.40 37.30 L 73.40 41.20 L 72.40 49.40 L 50.90 31.20 L 56.80 28.90 L 62.60 26.50 L 66.60 24.00 L 70.00 19.60 L 71.50 16.70 L 73.40 14.20 Z" fill="#1e9de2"/>
<path d="M 188.30 2.90 L 198.60 10.30 L 191.80 22.10 L 190.30 23.00 L 188.30 26.50 L 185.40 33.30 L 182.50 39.20 L 178.50 47.10 L 160.90 31.40 L 164.80 30.40 L 168.70 27.90 L 172.60 23.50 L 176.60 19.10 L 180.00 15.70 L 180.00 13.20 Z" fill="#1e9de2"/>
<path d="M 299.40 4.50 L 309.00 11.80 L 302.10 23.00 L 301.00 24.60 L 297.80 31.00 L 293.50 39.60 L 288.90 49.00 L 267.80 30.30 L 276.90 28.90 L 283.90 21.40 L 290.80 15.50 L 291.40 13.40 Z" fill="#1e9de2"/>
<line x1="3.6" y1="84.8" x2="94.5" y2="73.2" stroke="#111" stroke-width="1.7" stroke-dasharray="4.6 1.6"/>
<line x1="9.8" y1="121.3" x2="99.8" y2="110.2" stroke="#111" stroke-width="1.7" stroke-dasharray="4.6 1.6"/>
<line x1="14.3" y1="157.9" x2="104.3" y2="146.8" stroke="#111" stroke-width="1.7" stroke-dasharray="4.6 1.6"/>
<line x1="110.0" y1="79.8" x2="200.0" y2="68.8" stroke="#111" stroke-width="1.7" stroke-dasharray="4.6 1.6"/>
<line x1="125.0" y1="138.1" x2="214.8" y2="127.4" stroke="#111" stroke-width="1.7" stroke-dasharray="4.6 1.6"/>
<line x1="132.5" y1="202.3" x2="222.3" y2="191.9" stroke="#111" stroke-width="1.7" stroke-dasharray="4.6 1.6"/>
<line x1="221.8" y1="74.9" x2="315.0" y2="63.0" stroke="#111" stroke-width="1.7" stroke-dasharray="4.6 1.6"/>
<line x1="228.9" y1="114.0" x2="319.2" y2="102.4" stroke="#111" stroke-width="1.7" stroke-dasharray="4.6 1.6"/>
<line x1="233.2" y1="153.0" x2="324.1" y2="142.1" stroke="#111" stroke-width="1.7" stroke-dasharray="4.6 1.6"/>
<g opacity="0.995">
<text x="13.4" y="77.4" font-family="Liberation Serif" font-weight="bold" font-size="14.5" text-anchor="middle" fill="#111" stroke="#111" stroke-width="0.25">1</text>
<text x="82.0" y="71.0" font-family="Liberation Serif" font-weight="bold" font-size="14.5" text-anchor="middle" fill="#111" stroke="#111" stroke-width="0.25">7</text>
<text x="25.5" y="112.6" font-family="Liberation Serif" font-weight="bold" font-size="14.5" text-anchor="middle" fill="#111" stroke="#111" stroke-width="0.25">2</text>
<text x="80.7" y="106.8" font-family="Liberation Serif" font-weight="bold" font-size="14.5" text-anchor="middle" fill="#111" stroke="#111" stroke-width="0.25">6</text>
<text x="35.1" y="150.9" font-family="Liberation Serif" font-weight="bold" font-size="14.5" text-anchor="middle" fill="#111" stroke="#111" stroke-width="0.25">3</text>
<text x="85.2" y="145.2" font-family="Liberation Serif" font-weight="bold" font-size="14.5" text-anchor="middle" fill="#111" stroke="#111" stroke-width="0.25">5</text>
<text x="121.6" y="73.2" font-family="Liberation Serif" font-weight="bold" font-size="14.5" text-anchor="middle" fill="#111" stroke="#111" stroke-width="0.25">1</text>
<text x="189.3" y="66.1" font-family="Liberation Serif" font-weight="bold" font-size="14.5" text-anchor="middle" fill="#111" stroke="#111" stroke-width="0.25">7</text>
<text x="138.9" y="130.5" font-family="Liberation Serif" font-weight="bold" font-size="14.5" text-anchor="middle" fill="#111" stroke="#111" stroke-width="0.25">2</text>
<text x="190.2" y="124.1" font-family="Liberation Serif" font-weight="bold" font-size="14.5" text-anchor="middle" fill="#111" stroke="#111" stroke-width="0.25">6</text>
<text x="153.9" y="194.7" font-family="Liberation Serif" font-weight="bold" font-size="14.5" text-anchor="middle" fill="#111" stroke="#111" stroke-width="0.25">3</text>
<text x="201.3" y="188.7" font-family="Liberation Serif" font-weight="bold" font-size="14.5" text-anchor="middle" fill="#111" stroke="#111" stroke-width="0.25">5</text>
<text x="230.2" y="67.0" font-family="Liberation Serif" font-weight="bold" font-size="14.5" text-anchor="middle" fill="#111" stroke="#111" stroke-width="0.25">1</text>
<text x="300.2" y="60.2" font-family="Liberation Serif" font-weight="bold" font-size="14.5" text-anchor="middle" fill="#111" stroke="#111" stroke-width="0.25">7</text>
<text x="243.9" y="107.1" font-family="Liberation Serif" font-weight="bold" font-size="14.5" text-anchor="middle" fill="#111" stroke="#111" stroke-width="0.25">2</text>
<text x="298.4" y="100.6" font-family="Liberation Serif" font-weight="bold" font-size="14.5" text-anchor="middle" fill="#111" stroke="#111" stroke-width="0.25">6</text>
<text x="254.6" y="143.4" font-family="Liberation Serif" font-weight="bold" font-size="14.5" text-anchor="middle" fill="#111" stroke="#111" stroke-width="0.25">3</text>
<text x="301.2" y="139.1" font-family="Liberation Serif" font-weight="bold" font-size="14.5" text-anchor="middle" fill="#111" stroke="#111" stroke-width="0.25">5</text>
<text x="188.4" y="280.6" font-family="Liberation Serif" font-weight="bold" font-size="14.5" text-anchor="middle" fill="#111">(a)</text>
<text x="565.2" y="281.4" font-family="Liberation Serif" font-weight="bold" font-size="14.5" text-anchor="middle" fill="#111">(b)</text>
<text x="182.7" y="555.3" font-family="Liberation Serif" font-weight="bold" font-size="14.5" text-anchor="middle" fill="#111">(c)</text>
<text x="565.0" y="555.9" font-family="Liberation Serif" font-weight="bold" font-size="14.5" text-anchor="middle" fill="#111">(d)</text>
</g>
<g class="ch" font-family="Liberation Sans" opacity="0.995">
<line x1="448.40" y1="215.20" x2="690.40" y2="215.20" stroke="#d9d9d9" stroke-width="1"/>
<text x="437.20" y="218.08" font-size="9.60" text-anchor="end" fill="#222" textLength="17.57" lengthAdjust="spacingAndGlyphs">0.00</text>
<line x1="448.40" y1="192.26" x2="690.40" y2="192.26" stroke="#d9d9d9" stroke-width="1"/>
<text x="437.20" y="195.14" font-size="9.60" text-anchor="end" fill="#222" textLength="17.57" lengthAdjust="spacingAndGlyphs">2.00</text>
<line x1="448.40" y1="169.32" x2="690.40" y2="169.32" stroke="#d9d9d9" stroke-width="1"/>
<text x="437.20" y="172.20" font-size="9.60" text-anchor="end" fill="#222" textLength="17.57" lengthAdjust="spacingAndGlyphs">4.00</text>
<line x1="448.40" y1="146.39" x2="690.40" y2="146.39" stroke="#d9d9d9" stroke-width="1"/>
<text x="437.20" y="149.27" font-size="9.60" text-anchor="end" fill="#222" textLength="17.57" lengthAdjust="spacingAndGlyphs">6.00</text>
<line x1="448.40" y1="123.45" x2="690.40" y2="123.45" stroke="#d9d9d9" stroke-width="1"/>
<text x="437.20" y="126.33" font-size="9.60" text-anchor="end" fill="#222" textLength="17.57" lengthAdjust="spacingAndGlyphs">8.00</text>
<line x1="448.40" y1="100.51" x2="690.40" y2="100.51" stroke="#d9d9d9" stroke-width="1"/>
<text x="437.20" y="103.39" font-size="9.60" text-anchor="end" fill="#222" textLength="22.60" lengthAdjust="spacingAndGlyphs">10.00</text>
<line x1="448.40" y1="77.57" x2="690.40" y2="77.57" stroke="#d9d9d9" stroke-width="1"/>
<text x="437.20" y="80.45" font-size="9.60" text-anchor="end" fill="#222" textLength="22.60" lengthAdjust="spacingAndGlyphs">12.00</text>
<line x1="448.40" y1="54.64" x2="690.40" y2="54.64" stroke="#d9d9d9" stroke-width="1"/>
<text x="437.20" y="57.52" font-size="9.60" text-anchor="end" fill="#222" textLength="22.60" lengthAdjust="spacingAndGlyphs">14.00</text>
<line x1="448.40" y1="31.70" x2="690.40" y2="31.70" stroke="#d9d9d9" stroke-width="1"/>
<text x="437.20" y="34.58" font-size="9.60" text-anchor="end" fill="#222" textLength="22.60" lengthAdjust="spacingAndGlyphs">16.00</text>
<rect x="453.50" y="186.08" width="5.13" height="29.12" fill="#5b9bd5"/>
<rect x="459.75" y="204.15" width="5.13" height="11.05" fill="#8fc94e"/>
<rect x="466.00" y="182.05" width="5.13" height="33.15" fill="url(#chk)"/>
<rect x="472.26" y="176.18" width="5.13" height="39.02" fill="url(#vln)"/>
<rect x="478.51" y="184.59" width="5.13" height="30.61" fill="url(#hln)"/>
<text x="468.57" y="231.48" font-weight="bold" font-size="8.60" text-anchor="middle" fill="#222">1</text>
<rect x="493.83" y="150.98" width="5.13" height="64.22" fill="#5b9bd5"/>
<rect x="500.09" y="188.38" width="5.13" height="26.82" fill="#8fc94e"/>
<rect x="506.34" y="165.25" width="5.13" height="49.95" fill="url(#chk)"/>
<rect x="512.59" y="156.16" width="5.13" height="59.04" fill="url(#vln)"/>
<rect x="518.84" y="172.04" width="5.13" height="43.16" fill="url(#hln)"/>
<text x="508.90" y="231.48" font-weight="bold" font-size="8.60" text-anchor="middle" fill="#222">2</text>
<rect x="534.17" y="117.83" width="5.13" height="97.37" fill="#5b9bd5"/>
<rect x="540.42" y="112.54" width="5.13" height="102.66" fill="#8fc94e"/>
<rect x="546.67" y="60.87" width="5.13" height="154.33" fill="url(#chk)"/>
<rect x="552.92" y="60.87" width="5.13" height="154.33" fill="url(#vln)"/>
<rect x="559.17" y="66.97" width="5.13" height="148.23" fill="url(#hln)"/>
<text x="549.23" y="231.48" font-weight="bold" font-size="8.60" text-anchor="middle" fill="#222">3</text>
<rect x="574.50" y="53.27" width="5.13" height="161.93" fill="#5b9bd5"/>
<rect x="580.75" y="80.09" width="5.13" height="135.11" fill="#8fc94e"/>
<rect x="587.00" y="42.80" width="5.13" height="172.40" fill="url(#chk)"/>
<rect x="593.26" y="41.07" width="5.13" height="174.13" fill="url(#vln)"/>
<rect x="599.51" y="40.73" width="5.13" height="174.47" fill="url(#hln)"/>
<text x="589.57" y="231.48" font-weight="bold" font-size="8.60" text-anchor="middle" fill="#222">5</text>
<rect x="614.83" y="98.96" width="5.13" height="116.24" fill="#5b9bd5"/>
<rect x="621.09" y="134.98" width="5.13" height="80.22" fill="#8fc94e"/>
<rect x="627.34" y="108.63" width="5.13" height="106.57" fill="url(#chk)"/>
<rect x="633.59" y="103.56" width="5.13" height="111.64" fill="url(#vln)"/>
<rect x="639.84" y="104.25" width="5.13" height="110.95" fill="url(#hln)"/>
<text x="629.90" y="231.48" font-weight="bold" font-size="8.60" text-anchor="middle" fill="#222">6</text>
<rect x="655.17" y="101.84" width="5.13" height="113.36" fill="#5b9bd5"/>
<rect x="661.42" y="154.78" width="5.13" height="60.42" fill="#8fc94e"/>
<rect x="667.67" y="134.06" width="5.13" height="81.14" fill="url(#chk)"/>
<rect x="673.92" y="130.72" width="5.13" height="84.48" fill="url(#vln)"/>
<rect x="680.17" y="131.88" width="5.13" height="83.32" fill="url(#hln)"/>
<text x="670.23" y="231.48" font-weight="bold" font-size="8.60" text-anchor="middle" fill="#222">7</text>
<line x1="448.40" y1="215.20" x2="690.40" y2="215.20" stroke="#d0d0d0" stroke-width="1"/>
<text x="569.10" y="246.52" font-size="8.40" text-anchor="middle" fill="#222" textLength="47.30" lengthAdjust="spacingAndGlyphs">Gruen Zone</text>
<text transform="translate(406.20 123.50) rotate(-90)" font-size="8.40" text-anchor="middle" fill="#222" x="0" y="3.02" textLength="97.00" lengthAdjust="spacingAndGlyphs">Von-Mises Stress (MPa)</text>
<rect x="704.60" y="104.90" width="5.20" height="5.20" fill="#5b9bd5"/>
<text x="712.30" y="110.49" font-weight="bold" font-size="8.30" fill="#222" textLength="46.60" lengthAdjust="spacingAndGlyphs">Intact femur</text>
<rect x="704.60" y="121.50" width="5.20" height="5.20" fill="#8fc94e"/>
<text x="712.30" y="127.09" font-weight="bold" font-size="8.30" fill="#222">Ms</text>
<rect x="704.60" y="138.10" width="5.20" height="5.20" fill="url(#chk)"/>
<text x="712.30" y="143.69" font-weight="bold" font-size="8.30" fill="#222">M1</text>
<rect x="704.60" y="154.70" width="5.20" height="5.20" fill="url(#vln)"/>
<text x="712.30" y="160.29" font-weight="bold" font-size="8.30" fill="#222">M2</text>
<rect x="704.60" y="171.30" width="5.20" height="5.20" fill="url(#hln)"/>
<text x="712.30" y="176.89" font-weight="bold" font-size="8.30" fill="#222">M3</text>
<line x1="52.10" y1="496.10" x2="309.30" y2="496.10" stroke="#d9d9d9" stroke-width="1"/>
<text x="39.60" y="498.98" font-size="9.60" text-anchor="end" fill="#222" textLength="18.35" lengthAdjust="spacingAndGlyphs">0.00</text>
<line x1="52.10" y1="471.50" x2="309.30" y2="471.50" stroke="#d9d9d9" stroke-width="1"/>
<text x="39.60" y="474.38" font-size="9.60" text-anchor="end" fill="#222" textLength="18.35" lengthAdjust="spacingAndGlyphs">2.00</text>
<line x1="52.10" y1="446.90" x2="309.30" y2="446.90" stroke="#d9d9d9" stroke-width="1"/>
<text x="39.60" y="449.78" font-size="9.60" text-anchor="end" fill="#222" textLength="18.35" lengthAdjust="spacingAndGlyphs">4.00</text>
<line x1="52.10" y1="422.30" x2="309.30" y2="422.30" stroke="#d9d9d9" stroke-width="1"/>
<text x="39.60" y="425.18" font-size="9.60" text-anchor="end" fill="#222" textLength="18.35" lengthAdjust="spacingAndGlyphs">6.00</text>
<line x1="52.10" y1="397.70" x2="309.30" y2="397.70" stroke="#d9d9d9" stroke-width="1"/>
<text x="39.60" y="400.58" font-size="9.60" text-anchor="end" fill="#222" textLength="18.35" lengthAdjust="spacingAndGlyphs">8.00</text>
<line x1="52.10" y1="373.10" x2="309.30" y2="373.10" stroke="#d9d9d9" stroke-width="1"/>
<text x="39.60" y="375.98" font-size="9.60" text-anchor="end" fill="#222" textLength="23.60" lengthAdjust="spacingAndGlyphs">10.00</text>
<line x1="52.10" y1="348.50" x2="309.30" y2="348.50" stroke="#d9d9d9" stroke-width="1"/>
<text x="39.60" y="351.38" font-size="9.60" text-anchor="end" fill="#222" textLength="23.60" lengthAdjust="spacingAndGlyphs">12.00</text>
<line x1="52.10" y1="323.90" x2="309.30" y2="323.90" stroke="#d9d9d9" stroke-width="1"/>
<text x="39.60" y="326.78" font-size="9.60" text-anchor="end" fill="#222" textLength="23.60" lengthAdjust="spacingAndGlyphs">14.00</text>
<line x1="52.10" y1="299.30" x2="309.30" y2="299.30" stroke="#d9d9d9" stroke-width="1"/>
<text x="39.60" y="302.18" font-size="9.60" text-anchor="end" fill="#222" textLength="23.60" lengthAdjust="spacingAndGlyphs">16.00</text>
<rect x="57.52" y="465.05" width="5.45" height="31.05" fill="#5b9bd5"/>
<rect x="64.16" y="485.59" width="5.45" height="10.51" fill="#8fc94e"/>
<rect x="70.81" y="482.99" width="5.45" height="13.11" fill="url(#chk)"/>
<rect x="77.45" y="472.35" width="5.45" height="23.75" fill="url(#vln)"/>
<rect x="84.10" y="470.00" width="5.45" height="26.10" fill="url(#hln)"/>
<text x="73.53" y="513.22" font-weight="bold" font-size="9.00" text-anchor="middle" fill="#222">1</text>
<rect x="100.39" y="426.95" width="5.45" height="69.15" fill="#5b9bd5"/>
<rect x="107.03" y="422.75" width="5.45" height="73.35" fill="#8fc94e"/>
<rect x="113.68" y="425.71" width="5.45" height="70.39" fill="url(#chk)"/>
<rect x="120.32" y="422.50" width="5.45" height="73.60" fill="url(#vln)"/>
<rect x="126.96" y="421.01" width="5.45" height="75.09" fill="url(#hln)"/>
<text x="116.40" y="513.22" font-weight="bold" font-size="9.00" text-anchor="middle" fill="#222">2</text>
<rect x="143.25" y="391.94" width="5.45" height="104.16" fill="#5b9bd5"/>
<rect x="149.90" y="455.90" width="5.45" height="40.20" fill="#8fc94e"/>
<rect x="156.54" y="457.26" width="5.45" height="38.84" fill="url(#chk)"/>
<rect x="163.19" y="463.32" width="5.45" height="32.78" fill="url(#vln)"/>
<rect x="169.83" y="463.07" width="5.45" height="33.03" fill="url(#hln)"/>
<text x="159.27" y="513.22" font-weight="bold" font-size="9.00" text-anchor="middle" fill="#222">3</text>
<rect x="186.12" y="322.42" width="5.45" height="173.68" fill="#5b9bd5"/>
<rect x="192.76" y="434.25" width="5.45" height="61.85" fill="#8fc94e"/>
<rect x="199.41" y="414.09" width="5.45" height="82.01" fill="url(#chk)"/>
<rect x="206.05" y="387.49" width="5.45" height="108.61" fill="url(#vln)"/>
<rect x="212.70" y="387.12" width="5.45" height="108.98" fill="url(#hln)"/>
<text x="202.13" y="513.22" font-weight="bold" font-size="9.00" text-anchor="middle" fill="#222">5</text>
<rect x="228.99" y="371.41" width="5.45" height="124.69" fill="#5b9bd5"/>
<rect x="235.63" y="421.63" width="5.45" height="74.47" fill="#8fc94e"/>
<rect x="242.28" y="400.23" width="5.45" height="95.87" fill="url(#chk)"/>
<rect x="248.92" y="401.47" width="5.45" height="94.63" fill="url(#vln)"/>
<rect x="255.56" y="401.47" width="5.45" height="94.63" fill="url(#hln)"/>
<text x="245.00" y="513.22" font-weight="bold" font-size="9.00" text-anchor="middle" fill="#222">6</text>
<rect x="271.85" y="374.63" width="5.45" height="121.47" fill="#5b9bd5"/>
<rect x="278.50" y="386.13" width="5.45" height="109.97" fill="#8fc94e"/>
<rect x="285.14" y="379.94" width="5.45" height="116.16" fill="url(#chk)"/>
<rect x="291.79" y="366.83" width="5.45" height="129.27" fill="url(#vln)"/>
<rect x="298.43" y="367.95" width="5.45" height="128.15" fill="url(#hln)"/>
<text x="287.87" y="513.22" font-weight="bold" font-size="9.00" text-anchor="middle" fill="#222">7</text>
<line x1="52.10" y1="496.10" x2="309.30" y2="496.10" stroke="#d0d0d0" stroke-width="1"/>
<text x="180.80" y="529.10" font-size="8.90" text-anchor="middle" fill="#222" textLength="50.60" lengthAdjust="spacingAndGlyphs">Gruen Zone</text>
<text transform="translate(7.20 397.60) rotate(-90)" font-size="8.90" text-anchor="middle" fill="#222" x="0" y="3.20" textLength="103.00" lengthAdjust="spacingAndGlyphs">Von-Mises Stress (MPa)</text>
<rect x="325.20" y="378.15" width="5.30" height="5.30" fill="#5b9bd5"/>
<text x="332.90" y="383.86" font-weight="bold" font-size="8.50" fill="#222" textLength="49.60" lengthAdjust="spacingAndGlyphs">Intact femur</text>
<rect x="325.20" y="395.75" width="5.30" height="5.30" fill="#8fc94e"/>
<text x="332.90" y="401.46" font-weight="bold" font-size="8.50" fill="#222">Cs</text>
<rect x="325.20" y="413.35" width="5.30" height="5.30" fill="url(#chk)"/>
<text x="332.90" y="419.06" font-weight="bold" font-size="8.50" fill="#222">C1</text>
<rect x="325.20" y="430.95" width="5.30" height="5.30" fill="url(#vln)"/>
<text x="332.90" y="436.66" font-weight="bold" font-size="8.50" fill="#222">C2</text>
<rect x="325.20" y="448.55" width="5.30" height="5.30" fill="url(#hln)"/>
<text x="332.90" y="454.26" font-weight="bold" font-size="8.50" fill="#222">C3</text>
<line x1="450.30" y1="496.50" x2="687.00" y2="496.50" stroke="#d9d9d9" stroke-width="1"/>
<text x="437.00" y="499.50" font-size="10.00" text-anchor="end" fill="#222" textLength="19.60" lengthAdjust="spacingAndGlyphs">0.00</text>
<line x1="450.30" y1="471.50" x2="687.00" y2="471.50" stroke="#d9d9d9" stroke-width="1"/>
<text x="437.00" y="474.50" font-size="10.00" text-anchor="end" fill="#222" textLength="19.60" lengthAdjust="spacingAndGlyphs">2.00</text>
<line x1="450.30" y1="446.50" x2="687.00" y2="446.50" stroke="#d9d9d9" stroke-width="1"/>
<text x="437.00" y="449.50" font-size="10.00" text-anchor="end" fill="#222" textLength="19.60" lengthAdjust="spacingAndGlyphs">4.00</text>
<line x1="450.30" y1="421.50" x2="687.00" y2="421.50" stroke="#d9d9d9" stroke-width="1"/>
<text x="437.00" y="424.50" font-size="10.00" text-anchor="end" fill="#222" textLength="19.60" lengthAdjust="spacingAndGlyphs">6.00</text>
<line x1="450.30" y1="396.50" x2="687.00" y2="396.50" stroke="#d9d9d9" stroke-width="1"/>
<text x="437.00" y="399.50" font-size="10.00" text-anchor="end" fill="#222" textLength="19.60" lengthAdjust="spacingAndGlyphs">8.00</text>
<line x1="450.30" y1="371.50" x2="687.00" y2="371.50" stroke="#d9d9d9" stroke-width="1"/>
<text x="437.00" y="374.50" font-size="10.00" text-anchor="end" fill="#222" textLength="25.20" lengthAdjust="spacingAndGlyphs">10.00</text>
<line x1="450.30" y1="346.50" x2="687.00" y2="346.50" stroke="#d9d9d9" stroke-width="1"/>
<text x="437.00" y="349.50" font-size="10.00" text-anchor="end" fill="#222" textLength="25.20" lengthAdjust="spacingAndGlyphs">12.00</text>
<line x1="450.30" y1="321.50" x2="687.00" y2="321.50" stroke="#d9d9d9" stroke-width="1"/>
<text x="437.00" y="324.50" font-size="10.00" text-anchor="end" fill="#222" textLength="25.20" lengthAdjust="spacingAndGlyphs">14.00</text>
<line x1="450.30" y1="296.50" x2="687.00" y2="296.50" stroke="#d9d9d9" stroke-width="1"/>
<text x="437.00" y="299.50" font-size="10.00" text-anchor="end" fill="#222" textLength="25.20" lengthAdjust="spacingAndGlyphs">16.00</text>
<rect x="455.29" y="465.12" width="5.01" height="31.37" fill="#5b9bd5"/>
<rect x="461.40" y="490.75" width="5.01" height="5.75" fill="#8fc94e"/>
<rect x="467.52" y="483.00" width="5.01" height="13.50" fill="url(#chk)"/>
<rect x="473.63" y="483.75" width="5.01" height="12.75" fill="url(#vln)"/>
<rect x="479.75" y="482.75" width="5.01" height="13.75" fill="url(#hln)"/>
<text x="470.03" y="514.89" font-weight="bold" font-size="9.20" text-anchor="middle" fill="#222">1</text>
<rect x="494.74" y="426.62" width="5.01" height="69.88" fill="#5b9bd5"/>
<rect x="500.85" y="433.00" width="5.01" height="63.50" fill="#8fc94e"/>
<rect x="506.97" y="396.75" width="5.01" height="99.75" fill="url(#chk)"/>
<rect x="513.08" y="396.75" width="5.01" height="99.75" fill="url(#vln)"/>
<rect x="519.20" y="389.25" width="5.01" height="107.25" fill="url(#hln)"/>
<text x="509.48" y="514.89" font-weight="bold" font-size="9.20" text-anchor="middle" fill="#222">2</text>
<rect x="534.19" y="390.75" width="5.01" height="105.75" fill="#5b9bd5"/>
<rect x="540.30" y="380.00" width="5.01" height="116.50" fill="#8fc94e"/>
<rect x="546.42" y="370.88" width="5.01" height="125.63" fill="url(#chk)"/>
<rect x="552.53" y="370.88" width="5.01" height="125.63" fill="url(#vln)"/>
<rect x="558.65" y="365.50" width="5.01" height="131.00" fill="url(#hln)"/>
<text x="548.92" y="514.89" font-weight="bold" font-size="9.20" text-anchor="middle" fill="#222">3</text>
<rect x="573.64" y="320.00" width="5.01" height="176.50" fill="#5b9bd5"/>
<rect x="579.75" y="341.38" width="5.01" height="155.12" fill="#8fc94e"/>
<rect x="585.87" y="323.75" width="5.01" height="172.75" fill="url(#chk)"/>
<rect x="591.98" y="322.25" width="5.01" height="174.25" fill="url(#vln)"/>
<rect x="598.10" y="322.75" width="5.01" height="173.75" fill="url(#hln)"/>
<text x="588.38" y="514.89" font-weight="bold" font-size="9.20" text-anchor="middle" fill="#222">5</text>
<rect x="613.09" y="370.00" width="5.01" height="126.50" fill="#5b9bd5"/>
<rect x="619.20" y="398.12" width="5.01" height="98.38" fill="#8fc94e"/>
<rect x="625.32" y="355.25" width="5.01" height="141.25" fill="url(#chk)"/>
<rect x="631.43" y="354.00" width="5.01" height="142.50" fill="url(#vln)"/>
<rect x="637.55" y="353.25" width="5.01" height="143.25" fill="url(#hln)"/>
<text x="627.83" y="514.89" font-weight="bold" font-size="9.20" text-anchor="middle" fill="#222">6</text>
<rect x="652.54" y="373.00" width="5.01" height="123.50" fill="#5b9bd5"/>
<rect x="658.65" y="437.62" width="5.01" height="58.88" fill="#8fc94e"/>
<rect x="664.77" y="390.12" width="5.01" height="106.38" fill="url(#chk)"/>
<rect x="670.88" y="388.25" width="5.01" height="108.25" fill="url(#vln)"/>
<rect x="677.00" y="384.75" width="5.01" height="111.75" fill="url(#hln)"/>
<text x="667.27" y="514.89" font-weight="bold" font-size="9.20" text-anchor="middle" fill="#222">7</text>
<line x1="450.30" y1="496.50" x2="687.00" y2="496.50" stroke="#d0d0d0" stroke-width="1"/>
<text x="568.20" y="531.65" font-size="9.30" text-anchor="middle" fill="#222" textLength="53.10" lengthAdjust="spacingAndGlyphs">Gruen Zone</text>
<text transform="translate(402.50 396.80) rotate(-90)" font-size="9.30" text-anchor="middle" fill="#222" x="0" y="3.35" textLength="107.00" lengthAdjust="spacingAndGlyphs">Von-Mises Stress (MPa)</text>
<rect x="703.20" y="376.10" width="5.60" height="5.60" fill="#5b9bd5"/>
<text x="711.40" y="382.07" font-weight="bold" font-size="8.80" fill="#222" textLength="51.60" lengthAdjust="spacingAndGlyphs">Intact femur</text>
<rect x="703.20" y="394.60" width="5.60" height="5.60" fill="#8fc94e"/>
<text x="711.40" y="400.57" font-weight="bold" font-size="8.80" fill="#222">Fs</text>
<rect x="703.20" y="413.10" width="5.60" height="5.60" fill="url(#chk)"/>
<text x="711.40" y="419.07" font-weight="bold" font-size="8.80" fill="#222">F1</text>
<rect x="703.20" y="431.60" width="5.60" height="5.60" fill="url(#vln)"/>
<text x="711.40" y="437.57" font-weight="bold" font-size="8.80" fill="#222">F2</text>
<rect x="703.20" y="450.10" width="5.60" height="5.60" fill="url(#hln)"/>
<text x="711.40" y="456.07" font-weight="bold" font-size="8.80" fill="#222">F3</text>
</g>
</svg>
</body></html>
